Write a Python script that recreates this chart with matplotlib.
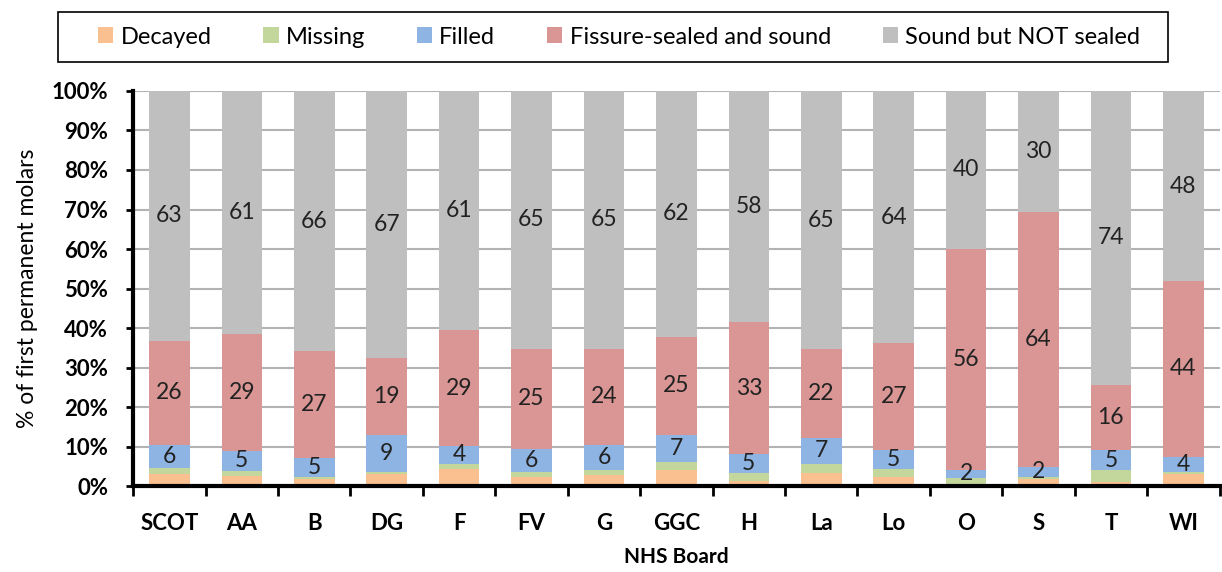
import numpy as np
import matplotlib
matplotlib.use("Agg")
import matplotlib.pyplot as plt
from matplotlib.patches import Rectangle
from matplotlib.ticker import FuncFormatter

# === DATA (percent of first permanent molars) ===
boards = ["SCOT", "AA", "B", "DG", "F", "FV", "G", "GGC", "H", "La", "Lo", "O", "S", "T", "WI"]
decayed = [3.0, 2.5, 1.8, 3.1, 4.4, 2.4, 2.8, 4.0, 1.4, 3.4, 2.4, 0.4, 1.8, 1.1, 3.1]
missing = [1.6, 1.3, 0.5, 0.6, 1.3, 1.2, 1.3, 2.0, 1.9, 2.2, 1.9, 1.6, 0.6, 2.9, 0.6]
filled = [5.8, 5.2, 4.8, 9.2, 4.4, 5.8, 6.3, 7.0, 4.8, 6.6, 4.9, 2.2, 2.4, 5.2, 3.8]
sealed = [26.4, 29.4, 27.0, 19.4, 29.3, 25.3, 24.4, 24.8, 33.4, 22.4, 27.0, 55.9, 64.4, 16.4, 44.4]
not_sealed = [63.2, 61.4, 65.9, 67.3, 60.6, 65.2, 65.2, 62.2, 58.4, 65.2, 63.8, 39.9, 30.4, 74.4, 48.1]

series = [
    ("Decayed", decayed, "#FAC090", False),
    ("Missing", missing, "#C3D69B", False),
    ("Filled", filled, "#8EB4E3", True),
    ("Fissure-sealed and sound", sealed, "#D99694", True),
    ("Sound but NOT sealed", not_sealed, "#BFBFBF", True),
]

plt.rcParams["font.family"] = ["Lato", "DejaVu Sans"]

fig = plt.figure(figsize=(12.22, 5.72), dpi=100)
ax = fig.add_axes([0.109, 0.150, 0.889, 0.691])

# 100% stacked: normalise each bar by its total
totals = np.sum([np.array(s[1]) for s in series], axis=0)

x = np.arange(len(boards))
bottom = np.zeros(len(boards))
handles = []
for name, vals, color, show_label in series:
    vals = np.array(vals)
    share = vals / totals * 100
    bars = ax.bar(x, share, 0.56, bottom=bottom, color=color, label=name, zorder=3)
    handles.append(bars)
    if show_label:
        for xi, b, h, v in zip(x, bottom, share, vals):
            ax.text(xi, b + h / 2, f"{v:.0f}", ha="center", va="center",
                    fontsize=16.5, color="#222222", zorder=4)
    bottom += share

ax.set_xlim(-0.5, len(boards) - 0.5)
ax.set_ylim(0, 100)
ax.set_yticks(np.arange(0, 101, 10))
ax.yaxis.set_major_formatter(FuncFormatter(lambda v, p: f"{v:.0f}%"))
ax.grid(axis="y", color="#b3b3b3", linewidth=1.5, zorder=0)

ax.set_xticks(x)
ax.set_xticklabels(boards)
ax.set_xticks(np.arange(-0.5, len(boards)), minor=True)
ax.tick_params(axis="x", which="major", length=0, pad=19, labelsize=16)
ax.tick_params(axis="x", which="minor", length=7, width=2, direction="out")
ax.tick_params(axis="y", length=5, width=2, direction="out", labelsize=16, pad=13)
for lbl in ax.get_xticklabels() + ax.get_yticklabels():
    lbl.set_fontweight("bold")

for side in ["top", "right"]:
    ax.spines[side].set_visible(False)
for side in ["left", "bottom"]:
    ax.spines[side].set_linewidth(3)
    ax.spines[side].set_zorder(5)

ax.set_ylabel("% of first permanent molars", fontsize=16.5, labelpad=10)
ax.set_xlabel("NHS Board", fontsize=15, fontweight="bold", labelpad=10)

# legend box across the top
W, H = 1222.0, 572.0
fig.patches.append(Rectangle((58 / W, 1 - 62 / H), 1110 / W, 50 / H,
                             transform=fig.transFigure, fill=False,
                             edgecolor="black", linewidth=1.2))
fig.legend(handles=handles, loc="center",
           bbox_to_anchor=(98 / W, 1 - 56 / H, 1042 / W, 38 / H),
           mode="expand", ncol=5, fontsize=17, frameon=False,
           handlelength=0.65, handleheight=0.65, handletextpad=0.3,
           borderpad=0, borderaxespad=0)

fig.savefig("out.png", dpi=100)
